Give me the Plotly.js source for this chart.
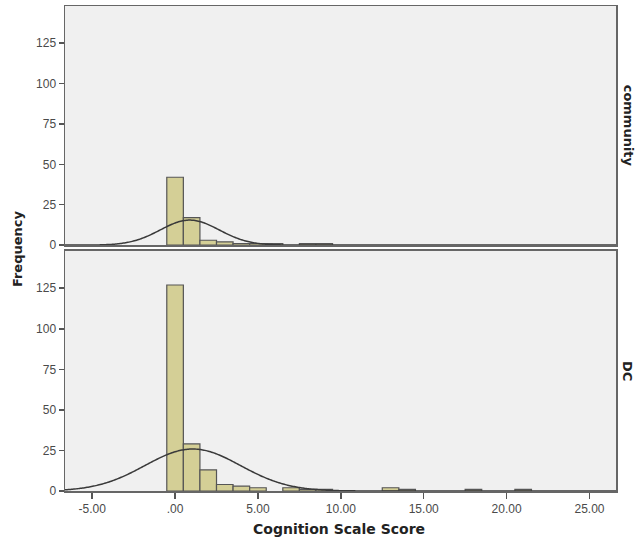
<!DOCTYPE html>
<html>
<head>
<meta charset="utf-8">
<script src="https://cdn.plot.ly/plotly-3.0.1.min.js"></script>
<style>html,body{margin:0;padding:0;background:#fff;}#chart{width:639px;height:542px;}</style>
</head>
<body>
<div id="chart"></div>
<script>
// Histogram bins (centers, width 1) and frequencies
const binCenters = [0, 1, 2, 3, 4, 5, 6, 7, 8, 9, 13, 14, 18, 21];
const communityFreq = [42, 17, 3, 2, 1, 1, 1, 0, 1, 1, 0, 0, 0, 0];
const dcFreq = [127, 29, 13, 4, 3, 2, 0, 2, 1, 1, 2, 1, 1, 1];
const panelLabels = ["community", "DC"];
const xTickVals = [-5, 0, 5, 10, 15, 20, 25];
const xTickText = ["-5.00", ".00", "5.00", "10.00", "15.00", "20.00", "25.00"];
const yTickVals = [0, 25, 50, 75, 100, 125];
const xRange = [-6.64, 26.6];
const yRange = [0, 148];

function stats(x, f) {
  let n = 0, s = 0, s2 = 0;
  for (let i = 0; i < x.length; i++) { n += f[i]; s += x[i] * f[i]; s2 += x[i] * x[i] * f[i]; }
  const m = s / n;
  const v = (s2 - n * m * m) / (n - 1);
  return {n: n, m: m, sd: Math.sqrt(v)};
}
function normalCurve(x, f) {
  const st = stats(x, f);
  const xs = [], ys = [];
  for (let i = 0; i <= 500; i++) {
    const xv = xRange[0] + (xRange[1] - xRange[0]) * i / 500;
    xs.push(xv);
    ys.push(st.n * 1 / (st.sd * Math.sqrt(2 * Math.PI)) * Math.exp(-0.5 * Math.pow((xv - st.m) / st.sd, 2)));
  }
  return {x: xs, y: ys};
}
function nonZero(x, f) {
  const xs = [], ys = [];
  for (let i = 0; i < x.length; i++) if (f[i] > 0) { xs.push(x[i]); ys.push(f[i]); }
  return {x: xs, y: ys};
}

const barStyle = {color: '#d4cf96', line: {color: '#555555', width: 1.2}};
const cTop = normalCurve(binCenters, communityFreq);
const cBot = normalCurve(binCenters, dcFreq);
const bTop = nonZero(binCenters, communityFreq);
const bBot = nonZero(binCenters, dcFreq);
const curveLine = {color: '#3a3a3a', width: 1.5, simplify: false};

const traces = [
  {type: 'bar', x: bTop.x, y: bTop.y, width: 1, marker: barStyle, xaxis: 'x2', yaxis: 'y2'},
  {type: 'scatter', mode: 'lines', x: cTop.x, y: cTop.y, line: curveLine, xaxis: 'x2', yaxis: 'y2'},
  {type: 'bar', x: bBot.x, y: bBot.y, width: 1, marker: barStyle, xaxis: 'x', yaxis: 'y'},
  {type: 'scatter', mode: 'lines', x: cBot.x, y: cBot.y, line: curveLine, xaxis: 'x', yaxis: 'y'}
];

const axFont = {family: 'Liberation Sans, Arial, sans-serif', size: 12, color: '#4a4a4a'};
const titleFont = {family: 'DejaVu Sans, sans-serif', size: 13, color: '#222', weight: 'bold'};
const yaxisBase = {
  range: yRange, tickvals: yTickVals, ticks: 'outside', ticklen: 5, tickwidth: 1.5, tickcolor: '#555',
  showgrid: false, zeroline: false, showline: true, mirror: true, linecolor: '#666', linewidth: 1.5,
  tickfont: axFont, fixedrange: true
};
const layout = {
  width: 639, height: 542,
  margin: {l: 65, r: 23, t: 6, b: 51},
  paper_bgcolor: '#ffffff', plot_bgcolor: '#f0f0f0',
  showlegend: false, bargap: 0,
  xaxis: {domain: [0, 1], anchor: 'y', range: xRange, tickvals: xTickVals, ticktext: xTickText,
    ticks: 'outside', ticklen: 6, tickwidth: 1.5, tickcolor: '#555', showgrid: false, zeroline: false,
    showline: true, mirror: true, linecolor: '#666', linewidth: 1.5, tickfont: axFont},
  xaxis2: {domain: [0, 1], anchor: 'y2', range: xRange, showticklabels: false, ticks: '',
    showgrid: false, zeroline: false, showline: true, mirror: true, linecolor: '#666', linewidth: 1.5},
  yaxis: Object.assign({}, yaxisBase, {domain: [0, 0.495], anchor: 'x'}),
  yaxis2: Object.assign({}, yaxisBase, {domain: [0.507, 1], anchor: 'x2'}),
  annotations: [
    {text: 'Frequency', xref: 'paper', yref: 'paper', x: -0.086, y: 0.5, xanchor: 'center', yanchor: 'middle',
      textangle: -90, showarrow: false, font: titleFont},
    {text: 'Cognition Scale Score', xref: 'paper', yref: 'paper', x: 0.498, y: -0.078, xanchor: 'center', yanchor: 'middle',
      showarrow: false, font: Object.assign({}, titleFont, {size: 14})},
    {text: panelLabels[0], xref: 'paper', yref: 'paper', x: 1.022, y: 0.753, xanchor: 'center', yanchor: 'middle',
      textangle: 90, showarrow: false, font: titleFont},
    {text: panelLabels[1], xref: 'paper', yref: 'paper', x: 1.022, y: 0.247, xanchor: 'center', yanchor: 'middle',
      textangle: 90, showarrow: false, font: titleFont}
  ]
};
Plotly.newPlot('chart', traces, layout, {displayModeBar: false, staticPlot: true});
</script>
</body>
</html>
